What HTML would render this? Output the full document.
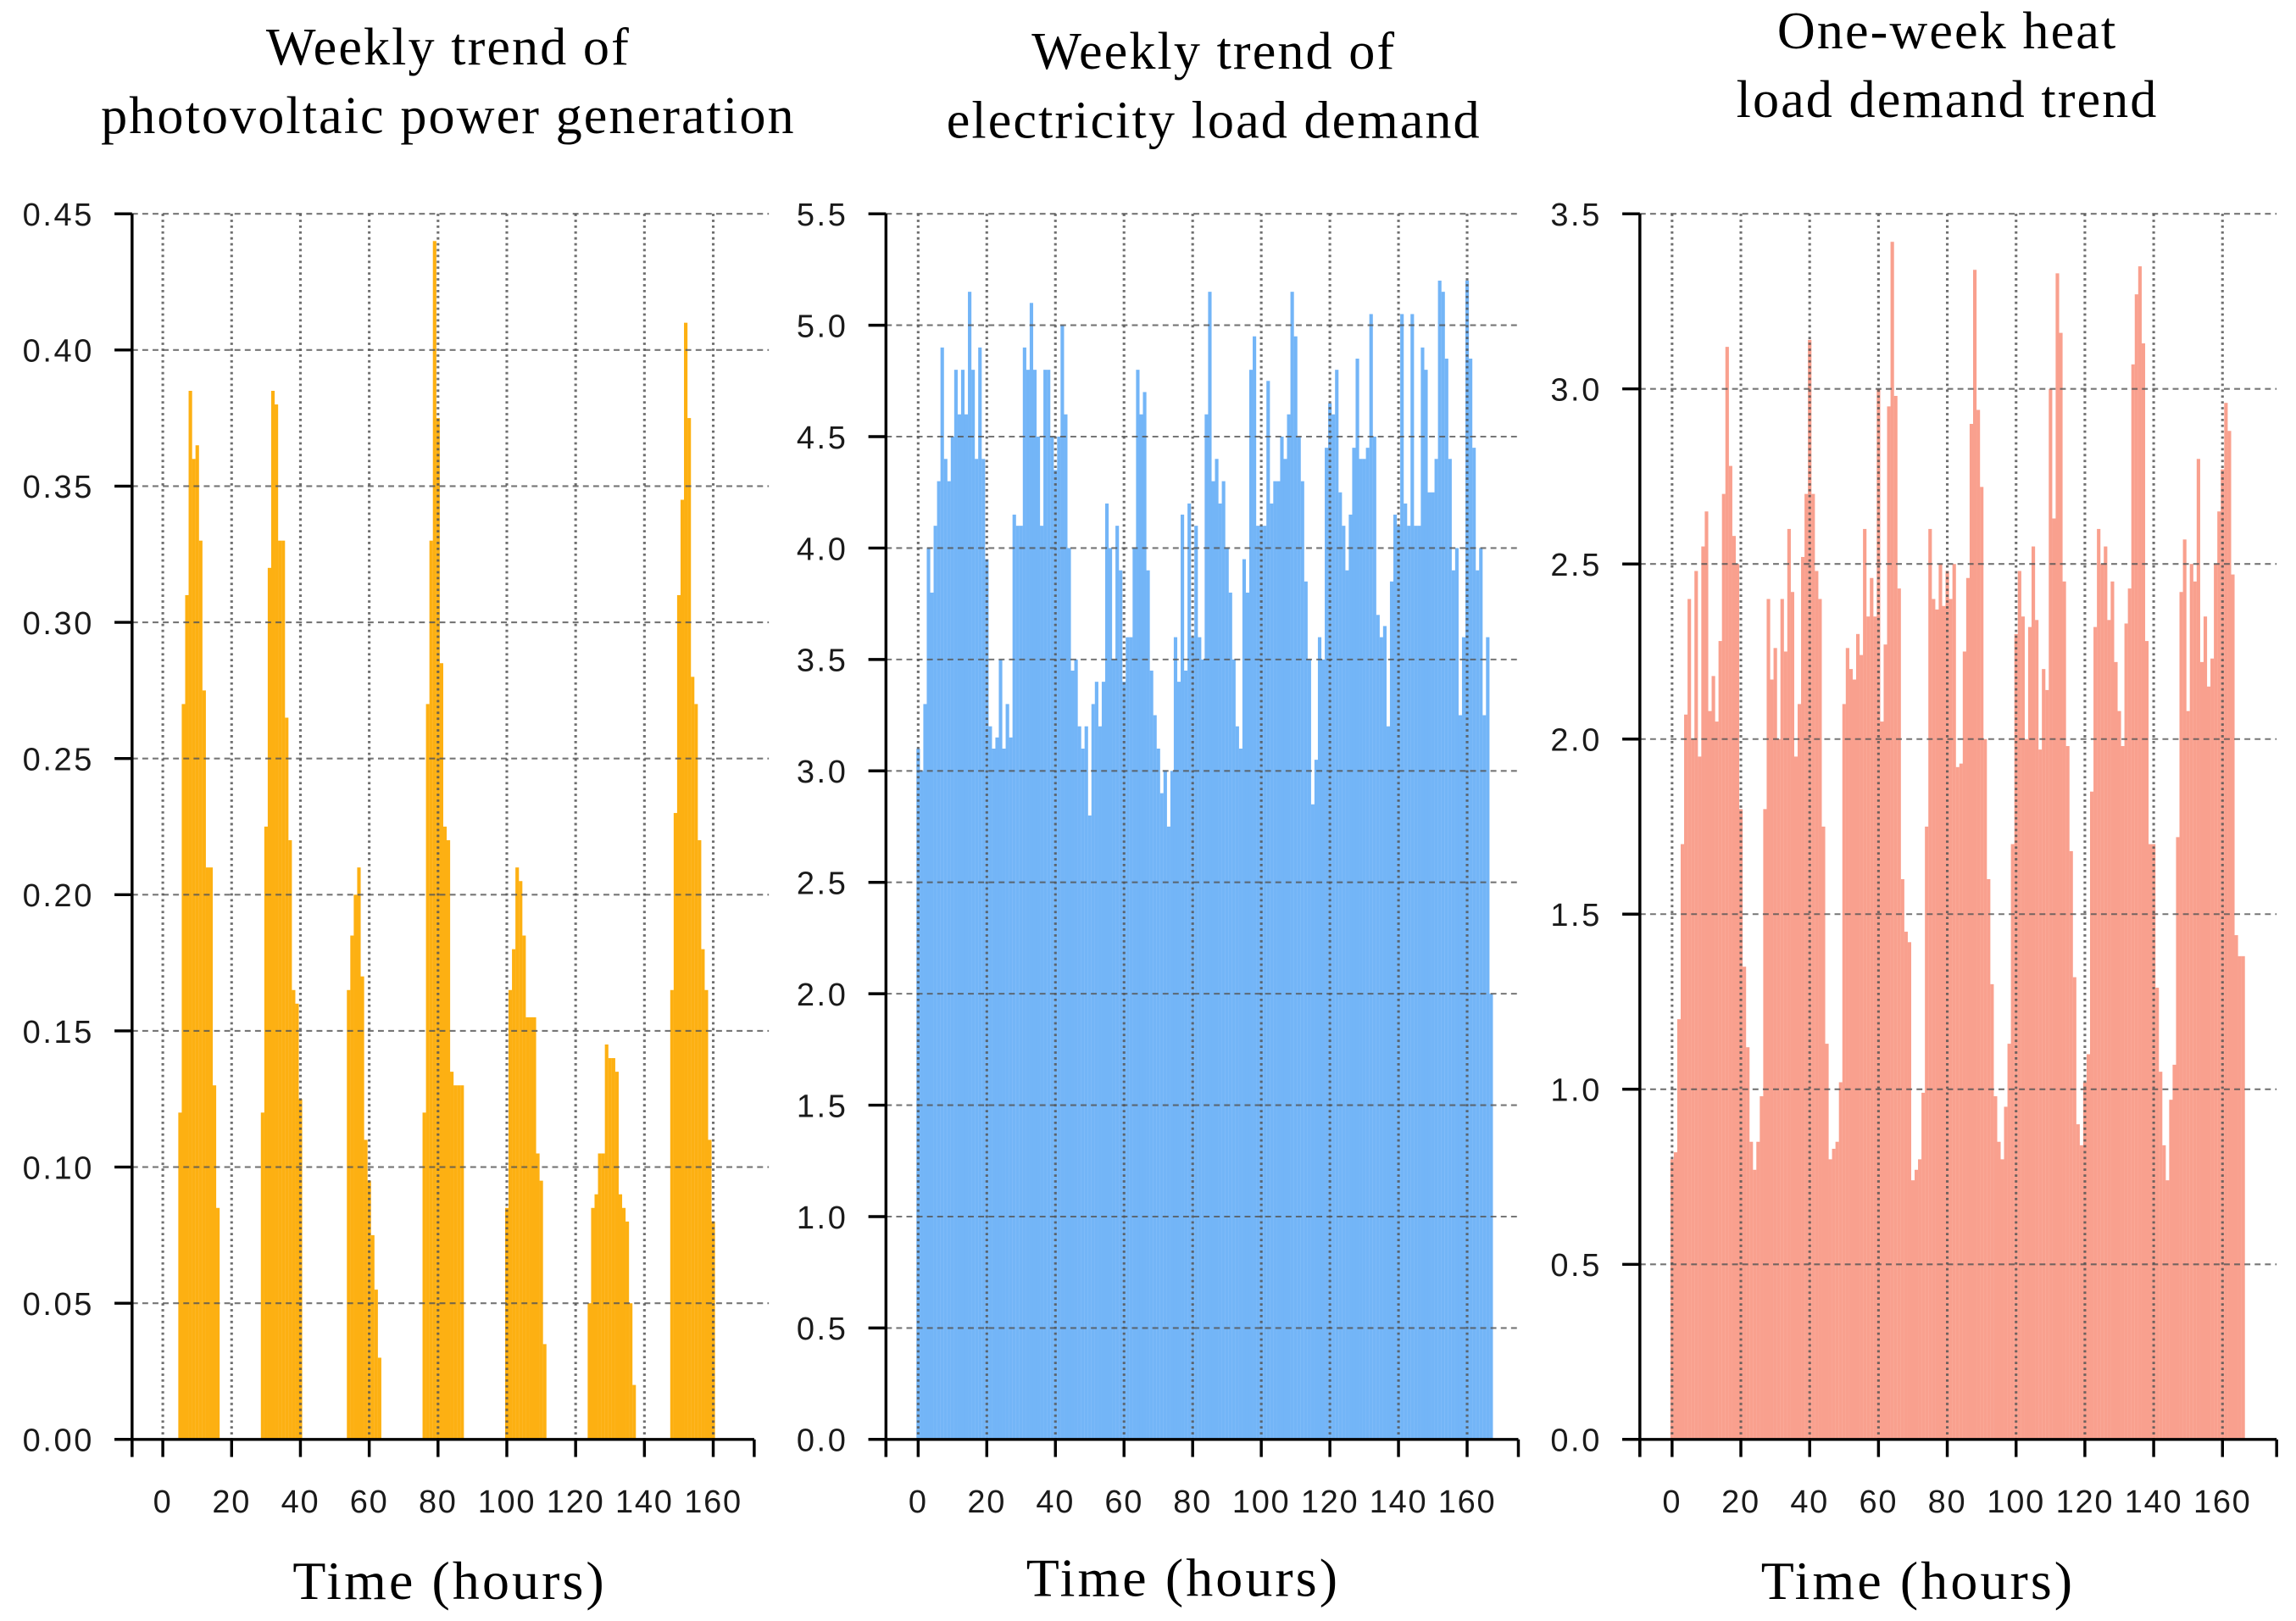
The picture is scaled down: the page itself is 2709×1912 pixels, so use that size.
<!DOCTYPE html>
<html><head><meta charset="utf-8"><style>
html,body{margin:0;padding:0;background:#fff;}
svg{display:block;}
text{font-family:"Liberation Sans",Arial,sans-serif;}
.serif{font-family:"Liberation Serif","Times New Roman",serif;}
</style></head><body>
<svg id="fig" width="2709" height="1912" viewBox="0 0 1568 1107" xmlns="http://www.w3.org/2000/svg">
<rect width="1568" height="1107" fill="#fff"/>
</svg>
<script>
// ---- data ----
const hours = Array.from({length:168},(_,i)=>i);
const xTicks = [0,20,40,60,80,100,120,140,160];
const pvTicks = [0,0.05,0.10,0.15,0.20,0.25,0.30,0.35,0.40,0.45];
const pvTickLabels = ["0.00","0.05","0.10","0.15","0.20","0.25","0.30","0.35","0.40","0.45"];
const elTicks = [0,0.5,1,1.5,2,2.5,3,3.5,4,4.5,5,5.5];
const elTickLabels = ["0.0","0.5","1.0","1.5","2.0","2.5","3.0","3.5","4.0","4.5","5.0","5.5"];
const htTicks = [0,0.5,1,1.5,2,2.5,3,3.5];
const htTickLabels = ["0.0","0.5","1.0","1.5","2.0","2.5","3.0","3.5"];

const pvDay1 = [0.12,0.27,0.31,0.385,0.36,0.365,0.33,0.275,0.21,0.21,0.13,0.085];
const pvDay2 = [0.12,0.225,0.32,0.385,0.38,0.33,0.33,0.265,0.22,0.165,0.16,0.125];
const pvDay3 = [0.165,0.185,0.2,0.21,0.17,0.11,0.095,0.075,0.055,0.03];
const pvDay4 = [0.12,0.27,0.33,0.44,0.375,0.285,0.225,0.22,0.135,0.13,0.13,0.13];
const pvDay5 = [0.085,0.165,0.18,0.21,0.205,0.185,0.155,0.155,0.155,0.105,0.095,0.035];
const pvDay6 = [0.05,0.085,0.09,0.105,0.105,0.145,0.14,0.14,0.135,0.09,0.085,0.08,0.05,0.02];
const pvDay7 = [0.165,0.23,0.31,0.345,0.41,0.375,0.28,0.27,0.22,0.18,0.165,0.11,0.08];
const pvStarts = [5,29,54,76,100,124,148];

const elecLoad = [
3.1,3.0,3.3,4.0,3.8,4.1,4.3,4.9,4.4,4.3,4.5,4.8,4.6,4.8,4.6,5.15,4.8,4.4,4.9,4.4,
3.95,3.2,3.1,3.15,3.5,3.1,3.3,3.15,4.15,4.1,4.1,4.9,4.8,5.1,4.8,4.5,4.1,4.8,4.8,4.5,
4.35,4.5,5.0,4.6,4.0,3.45,3.5,3.2,3.1,3.2,2.8,3.3,3.4,3.2,3.4,4.2,4.0,3.5,4.1,3.9,
3.4,3.6,3.6,4.0,4.8,4.6,4.7,3.9,3.45,3.25,3.1,2.9,3.0,2.75,3.0,3.6,3.4,4.15,3.45,4.2,
3.6,4.1,3.6,3.5,4.6,5.15,4.3,4.4,4.2,4.3,4.0,3.8,3.5,3.2,3.1,3.95,3.8,4.8,4.95,4.1,
4.1,4.1,4.75,4.2,4.3,4.3,4.5,4.4,4.6,5.15,4.95,4.5,4.3,3.85,3.5,2.85,3.05,3.6,3.5,4.45,
4.65,4.6,4.8,4.25,4.1,3.9,4.15,4.45,4.85,4.4,4.4,4.45,5.05,4.5,3.7,3.6,3.65,3.2,3.85,4.15,
4.1,5.05,4.2,4.1,5.05,4.1,4.1,4.9,4.8,4.25,4.25,4.4,5.2,5.15,4.85,4.4,3.9,4.0,3.25,3.6,
5.2,4.85,4.45,3.9,4.0,3.25,3.6,2.0];

const heatLoad = [
0.8,0.82,1.2,1.7,2.07,2.4,2.0,2.48,1.95,2.55,2.65,2.08,2.18,2.05,2.28,2.7,3.12,2.78,2.58,2.5,
1.8,1.35,1.12,0.85,0.77,0.85,0.98,1.8,2.4,2.17,2.26,2.0,2.4,2.25,2.6,2.42,1.95,2.1,2.52,2.7,
3.14,2.7,2.48,2.4,1.75,1.13,0.8,0.83,0.85,1.02,2.1,2.26,2.2,2.17,2.3,2.24,2.6,2.35,2.46,2.35,
3.0,2.05,2.27,2.95,3.42,2.98,2.43,1.6,1.45,1.42,0.74,0.77,0.8,0.99,1.75,2.6,2.4,2.37,2.5,2.38,
2.48,2.4,2.5,1.92,1.93,2.25,2.46,2.9,3.34,2.94,2.72,2.0,1.6,1.3,0.98,0.85,0.8,0.95,1.13,1.7,
2.3,2.48,2.35,2.0,2.32,2.55,2.34,1.97,2.2,2.14,3.0,2.63,3.33,3.16,2.45,1.98,1.68,1.32,0.9,0.84,
1.02,1.1,1.85,2.32,2.6,2.5,2.55,2.34,2.45,2.22,2.08,1.98,2.33,2.43,3.07,3.27,3.35,3.13,2.28,1.7,
1.7,1.29,1.05,0.84,0.74,0.97,1.07,1.72,2.42,2.57,2.08,2.5,2.45,2.8,2.22,2.35,2.15,2.23,2.5,2.65,
2.77,2.96,2.88,2.47,1.44,1.38,1.38];

const pvValues = hours.map(()=>0);
[pvDay1,pvDay2,pvDay3,pvDay4,pvDay5,pvDay6,pvDay7].forEach((d,k)=>d.forEach((v,j)=>{pvValues[pvStarts[k]+j]=v;}));

// ---- drawing ----
const NS="http://www.w3.org/2000/svg";
const svg=document.getElementById('fig');
function mk(tag,attrs,parent){const e=document.createElementNS(NS,tag);for(const k in attrs)e.setAttribute(k,attrs[k]);(parent||svg).appendChild(e);return e;}

function drawChart(cfg){
  const g=mk('g',{});
  
  
  const y0=983, yTop=146;
  const ymax=cfg.ticks[cfg.ticks.length-1];
  const yS=v=>y0-(v/ymax)*(y0-yTop);
  const pph=(cfg.x160-cfg.x0)/160;
  const xS=h=>cfg.x0+h*pph;
  cfg.values.forEach((v,i)=>{
    if(v<=0) return;
    const r=mk('rect',{x:xS(i)-pph/2,y:yS(v),width:pph+0.05,height:y0-yS(v),fill:cfg.color},g);
    
    
  });
  cfg.ticks.forEach((t,i)=>{
    if(i>0){const l=mk('line',{x1:cfg.ax,x2:cfg.gridEnd,y1:yS(t),y2:yS(t),stroke:'#555','stroke-width':1.2,'stroke-dasharray':'4,3',opacity:0.8},g);
    
    }
    const tk=mk('line',{x1:cfg.ax-12,x2:cfg.ax,y1:yS(t),y2:yS(t),stroke:'#000','stroke-width':2},g);
    
    
    const tx=mk('text',{x:cfg.ax-26,y:yS(t)+8,'text-anchor':'end','font-size':22,'letter-spacing':1.5,fill:'#1a1a1a'},g);
    tx.textContent=cfg.labels[i];
    
    
  });
  xTicks.forEach(t=>{
    const l=mk('line',{x1:xS(t),x2:xS(t),y1:yTop,y2:y0,stroke:'#555','stroke-width':1.8,'stroke-dasharray':'1.6,2.4',opacity:0.85},g);
    
    
    const tk=mk('line',{x1:xS(t),x2:xS(t),y1:y0,y2:y0+12,stroke:'#000','stroke-width':2},g);
    
    
    const tx=mk('text',{x:xS(t),y:1033,'text-anchor':'middle','font-size':22,'letter-spacing':1,fill:'#1a1a1a'},g);
    tx.textContent=String(t);
    
    
  });
  [cfg.ax,cfg.axEnd].forEach(x=>{mk('line',{x1:x,x2:x,y1:y0,y2:y0+12,stroke:'#000','stroke-width':2},g);});
  const ya=mk('line',{x1:cfg.ax,x2:cfg.ax,y1:yTop,y2:y0+12,stroke:'#000','stroke-width':2},g);
  
  
  const xa=mk('line',{x1:cfg.ax-12,x2:cfg.axEnd,y1:y0,y2:y0,stroke:'#000','stroke-width':2},g);
  
  
  cfg.title.forEach((line,i)=>{
    const t=mk('text',{x:cfg.titleX,y:cfg.titleY+i*47,'text-anchor':'middle','font-size':36,'letter-spacing':1.2,class:'serif',fill:'#000'},g);
    t.textContent=line;
    
    
  });
  const xt=mk('text',{x:cfg.xlabX,y:cfg.xlabY,'text-anchor':'middle','font-size':37,'letter-spacing':1.8,class:'serif',fill:'#000'},g);
  xt.textContent='Time (hours)';
  
  
}

drawChart({name:'pv-chart',values:pvValues,ticks:pvTicks,labels:pvTickLabels,color:'#FDB012',
  ax:90,x0:111,x160:487,axEnd:515,gridEnd:525,title:['Weekly trend of','photovoltaic power generation'],titleX:306,titleY:44,xlabX:307,xlabY:1092});
drawChart({name:'electricity-chart',values:elecLoad,ticks:elTicks,labels:elTickLabels,color:'#73B5F7',
  ax:605,x0:627,x160:1002,axEnd:1037,gridEnd:1037,title:['Weekly trend of','electricity load demand'],titleX:829,titleY:47,xlabX:808,xlabY:1090});
drawChart({name:'heat-chart',values:heatLoad,ticks:htTicks,labels:htTickLabels,color:'#F9A08E',
  ax:1120,x0:1142,x160:1518,axEnd:1555,gridEnd:1555,title:['One-week heat','load demand trend'],titleX:1330,titleY:33,xlabX:1310,xlabY:1092});
</script>
</body></html>
